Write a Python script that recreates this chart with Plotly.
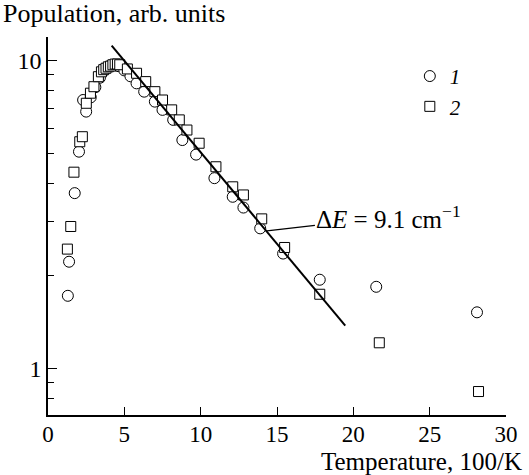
import plotly.graph_objects as go

# Series 1 (circles)
x1 = [1.3, 1.38, 1.75, 2.03, 2.3, 2.5, 2.8, 3.1, 3.4, 3.7, 4.0, 4.3, 4.6, 5.0, 5.4, 5.8, 6.3,
      7.0, 7.5, 8.2, 8.8, 9.7, 10.9, 12.1, 12.8, 13.9, 15.4, 17.8, 21.5, 28.1]
y1 = [1.72, 2.22, 3.71, 5.06, 7.45, 6.83, 7.6, 8.2, 8.8, 9.3, 9.6, 9.7, 9.6, 9.3, 8.9, 8.44, 7.93,
      7.36, 6.92, 6.42, 5.52, 4.95, 4.15, 3.61, 3.33, 2.85, 2.36, 1.94, 1.84, 1.52]

# Series 2 (squares)
x2 = [1.27, 1.49, 1.70, 2.08, 2.25, 2.51, 2.78, 3.01, 3.3, 3.5, 3.65, 3.8, 3.95, 4.1, 4.25, 4.4,
      4.55, 4.7, 5.2, 5.8, 6.4, 7.0, 7.5, 8.1, 8.6, 9.1, 9.9, 11.0, 12.1, 12.8, 14.0, 15.5,
      17.8, 21.7, 28.2]
y2 = [2.44, 2.89, 4.34, 5.45, 5.66, 7.27, 7.84, 8.23, 8.87, 9.2, 9.35, 9.45, 9.55, 9.6, 9.7, 9.75,
      9.75, 9.7, 9.4, 9.1, 8.55, 7.93, 7.45, 6.92, 6.42, 5.95, 5.39, 4.52, 3.89, 3.66, 3.06, 2.47,
      1.74, 1.21, 0.84]

# Fit line (dE = 9.1 cm^-1)
xfit = [4.17, 19.47]
yfit = [11.2, 1.375]

xticks = [0, 5, 10, 15, 20, 25, 30]
yticks = [1, 10]
yminor = [0.8, 0.9, 2, 3, 4, 5, 6, 7, 8, 9]

FONT = "serif"

fig = go.Figure()
fig.add_trace(go.Scatter(
    x=x1, y=y1, mode="markers", name="<i>1</i>",
    marker=dict(symbol="circle", size=11, color="white", line=dict(color="black", width=1)),
))
fig.add_trace(go.Scatter(
    x=x2, y=y2, mode="markers", name="<i>2</i>",
    marker=dict(symbol="square", size=10, color="white", line=dict(color="black", width=1)),
))
fig.add_trace(go.Scatter(
    x=xfit, y=yfit, mode="lines", showlegend=False,
    line=dict(color="black", width=2),
))

fig.update_layout(
    width=529, height=475,
    margin=dict(l=48, r=23, t=37, b=60),
    paper_bgcolor="white", plot_bgcolor="white",
    font=dict(family=FONT, size=23, color="black"),
    showlegend=True,
    legend=dict(x=0.79, y=0.95, xanchor="left", yanchor="top",
                font=dict(family=FONT, size=21), bgcolor="rgba(0,0,0,0)",
                itemwidth=30, tracegroupgap=0),
    xaxis=dict(range=[0, 30], tickvals=xticks, ticks="inside", ticklen=8, tickwidth=1.2,
               tickcolor="black", showline=True, linecolor="black", linewidth=1.5,
               showgrid=False, zeroline=False, tickfont=dict(family=FONT, size=23),
               ticklabelstandoff=-2),
    yaxis=dict(type="log", range=[-0.152, 1.077], tickvals=yticks, ticktext=["1", "10"],
               ticks="inside", ticklen=9, tickwidth=1.2, tickcolor="black",
               showline=True, linecolor="black", linewidth=1.5, showgrid=False,
               zeroline=False, tickfont=dict(family=FONT, size=24),
               minor=dict(tickvals=yminor, ticks="inside", ticklen=6, tickwidth=1.2,
                          tickcolor="black", showgrid=False)),
    annotations=[
        dict(text="Population, arb. units", xref="paper", yref="paper", x=-0.103, y=1,
             xanchor="left", yanchor="middle", yshift=24, showarrow=False,
             font=dict(family=FONT, size=26)),
        dict(text="Temperature, 100/K", xref="paper", yref="paper", x=1.039, y=0,
             xanchor="right", yanchor="middle", yshift=-46, showarrow=False,
             font=dict(family=FONT, size=25)),
        dict(text="Δ<i>E</i> = 9.1 cm<sup>−1</sup>", x=14.34, y=0.4464, xref="x", yref="y",
             showarrow=True, arrowhead=0, arrowwidth=1.2, arrowcolor="black",
             ax=122, ay=-14, font=dict(family=FONT, size=25)),
    ],
)

fig.write_html("out.html")
